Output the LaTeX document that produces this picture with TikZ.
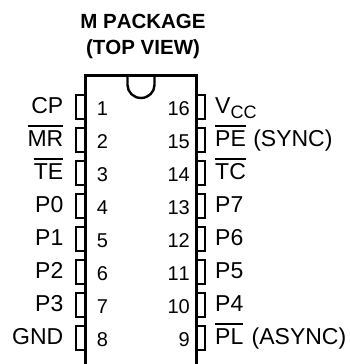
\documentclass[tikz,border=0pt]{standalone}
\usepackage{fontspec}
\setmainfont[Kerning=Off]{Liberation Sans}
\usepackage{calc}
\newcommand{\ovl}[1]{\rlap{\rule[0.82em]{\widthof{#1}}{0.08em}}#1}
\tikzset{
 x=1pt,y=-1pt,
 body/.style={line width=3pt,line cap=butt,line join=miter},
 pinbox/.style={line width=1.9pt,line join=miter},
 lab/.style={font=\fontsize{23}{23}\selectfont,inner sep=0pt,anchor=base east},
 rlab/.style={font=\fontsize{23}{23}\selectfont,inner sep=0pt,anchor=base west},
 num/.style={font=\fontsize{20}{20}\selectfont,inner sep=0pt,anchor=base},
 ttl/.style={font=\bfseries\fontsize{20.5}{20.5}\selectfont,inner sep=0pt,anchor=base},
}
\begin{document}
\begin{tikzpicture}
\useasboundingbox (0,0) rectangle (349,364);
\node[ttl] (t1) at (143,28) {M PACKAGE};
\node[ttl] (t2) at (143,54) {(TOP VIEW)};
\draw[body] (85.5,364) -- (85.5,75.5) -- (196,75.5) -- (196,364);
\draw[line width=2.4pt] (127.5,75.5) -- (127.5,85) arc[start angle=180,end angle=0,x radius=13.5,y radius=13] -- (154.5,75.5);
\foreach \i/\l [evaluate=\i as \y using {95+(\i-1)*33}] in {1/CP,2/\ovl{MR},3/\ovl{TE},4/P0,5/P1,6/P2,7/P3,8/GND}{
  \draw[pinbox] (85,\y) -- (76,\y) -- (76,\y+24) -- (85,\y+24);
  \node[lab] (L\i) at (63.5,\y+18) {\l};
  \node[num] (N\i) at (102.5,\y+20) {\i};
}
\foreach \i/\l [evaluate=\i as \y using {95+(16-\i)*33}] in {16/V\raisebox{-0.22em}{\fontsize{18}{18}\selectfont CC},15/\ovl{PE}\hspace{1pt} (SYNC),14/\ovl{TC},13/P7,12/P6,11/P5,10/P4,9/\ovl{PL}\hspace{2pt} (ASYNC)}{
  \draw[pinbox] (197,\y) -- (205,\y) -- (205,\y+24) -- (197,\y+24);
  \node[rlab] (L\i) at (215,\y+18) {\l};
  \node[num,anchor=base east] (N\i) at (190,\y+20) {\i};
}
\end{tikzpicture}
\end{document}
